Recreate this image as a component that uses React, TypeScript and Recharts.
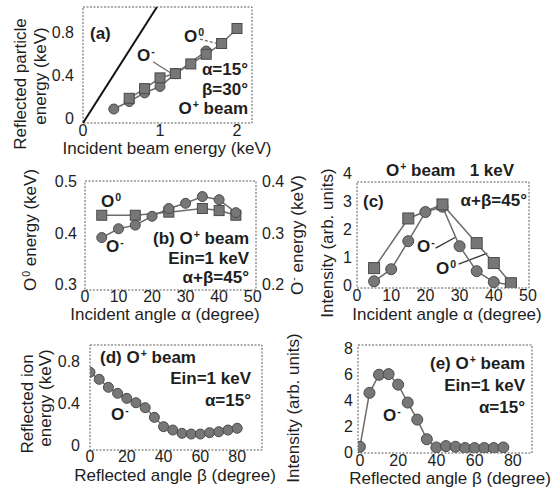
import React from "react";
import { LineChart, Line, XAxis, YAxis, ReferenceArea, ReferenceLine } from "recharts";

const FONT = '"Liberation Sans", Arial, Helvetica, sans-serif';
const INK = "#1e1e1e";
const MARK_FILL = "#777777";
const MARK_EDGE = "#4a4a4a";
const LINK = "#6c6c6c";

// (a) reflected energy vs incident beam energy
const A_EIN_O0 = [0.6, 0.8, 1.0, 1.2, 1.4, 1.6, 1.8, 2.0];
const A_E_O0 = [0.19, 0.28, 0.38, 0.42, 0.51, 0.6, 0.7, 0.84];
const A_EIN_OM = [0.4, 0.6, 0.8, 1.0, 1.2, 1.6];
const A_E_OM = [0.09, 0.16, 0.24, 0.3, 0.42, 0.63];
const A_X_TICKS = [0, 1, 2];
const A_Y_TICKS = [0, 0.4, 0.8];

// (b) energy vs incident angle (O0 left axis, O- right axis)
const B_ALPHA_O0 = [5, 15, 25, 35, 40, 45];
const B_E_O0 = [0.434, 0.434, 0.44, 0.447, 0.443, 0.434];
const B_ALPHA_OM = [5, 10, 15, 20, 25, 30, 35, 40, 45];
const B_E_OM = [0.291, 0.308, 0.315, 0.332, 0.347, 0.357, 0.37, 0.364, 0.339];
const B_X_TICKS = [0, 10, 20, 30, 40, 50];
const B_YL_TICKS = [0.3, 0.4, 0.5];
const B_YR_TICKS = [0.2, 0.3, 0.4];

// (c) intensity vs incident angle
const C_ALPHA_O0 = [5, 15, 25, 35, 40, 45];
const C_I_O0 = [0.61, 2.38, 2.88, 1.5, 0.79, 0.07];
const C_ALPHA_OM = [5, 10, 15, 20, 25, 30, 35, 40, 45];
const C_I_OM = [0.14, 0.57, 1.57, 2.61, 2.8, 1.39, 0.5, 0.11, 0.0];
const C_X_TICKS = [0, 10, 20, 30, 40, 50];
const C_Y_TICKS = [0, 1, 2, 3, 4];

// (d) reflected ion energy vs reflected angle
const D_BETA = [0, 5, 10, 15, 20, 25, 30, 35, 40, 45, 50, 55, 60, 65, 70, 75, 80];
const D_E_OM = [0.7, 0.633, 0.557, 0.5, 0.452, 0.41, 0.363, 0.271, 0.182, 0.15, 0.119, 0.112, 0.112, 0.125, 0.134, 0.15, 0.167];
const D_X_TICKS = [0, 20, 40, 60, 80];
const D_Y_TICKS = [0, 0.4, 0.8];

// (e) intensity vs reflected angle
const E_BETA = [0, 5, 10, 15, 20, 25, 30, 35, 40, 45, 50, 55, 60, 65, 70, 75];
const E_I_OM = [0.4, 4.55, 5.94, 5.99, 5.18, 3.8, 2.49, 0.98, 0.35, 0.45, 0.4, 0.3, 0.3, 0.3, 0.3, 0.35];
const E_X_TICKS = [0, 20, 40, 60, 80];
const E_Y_TICKS = [0, 2, 4, 6, 8];

type Pt = { x: number; y: number };
const toPts = (xs: number[], ys: number[]): Pt[] => xs.map((x, i) => ({ x, y: ys[i] }));

const squareDot = (size: number) => (p: any) => {
  if (p.cx == null || p.cy == null) return <g key={p.index} />;
  return (
    <rect
      key={p.index}
      x={p.cx - size / 2}
      y={p.cy - size / 2}
      width={size}
      height={size}
      fill={MARK_FILL}
      stroke={MARK_EDGE}
      strokeWidth={1}
    />
  );
};

const circleDot = (r: number) => (p: any) => {
  if (p.cx == null || p.cy == null) return <g key={p.index} />;
  return <circle key={p.index} cx={p.cx} cy={p.cy} r={r} fill={MARK_FILL} stroke={MARK_EDGE} strokeWidth={1} />;
};

interface Series {
  data: Pt[];
  shape: "square" | "circle";
  axis?: "l" | "r";
  size?: number;
}

interface Segment {
  from: Pt;
  to: Pt;
  color?: string;
  width?: number;
  dash?: string;
}

interface PanelProps {
  plot: { x: number; y: number; w: number; h: number };
  xDomain: [number, number];
  xTicks: number[];
  xGap: number;
  yDomain: [number, number];
  yTicks: number[];
  yGap: number;
  right?: { domain: [number, number]; ticks: number[]; gap: number };
  series: Series[];
  segments?: Segment[];
}

const YW = 52;
const XH = 24;
const MT = 20;
const MR = 10;
const RW = 46;

function Panel({ plot, xDomain, xTicks, xGap, yDomain, yTicks, yGap, right, series, segments = [] }: PanelProps) {
  const width = YW + plot.w + (right ? RW : MR);
  const height = MT + plot.h + XH;
  const tick = { fontSize: 16, fill: INK, fontFamily: FONT };

  return (
    <div style={{ position: "absolute", left: plot.x - YW, top: plot.y - MT }}>
      <LineChart width={width} height={height} margin={{ top: MT, right: right ? 0 : MR, left: 0, bottom: 0 }}>
        <XAxis
          type="number"
          dataKey="x"
          domain={xDomain}
          ticks={xTicks}
          allowDataOverflow
          interval={0}
          height={XH}
          tick={tick}
          tickSize={0}
          tickMargin={xGap}
          axisLine={false}
          tickLine={false}
        />
        <YAxis
          yAxisId="l"
          type="number"
          domain={yDomain}
          ticks={yTicks}
          allowDataOverflow
          interval={0}
          width={YW}
          tick={tick}
          tickSize={0}
          tickMargin={yGap}
          axisLine={false}
          tickLine={false}
        />
        {right && (
          <YAxis
            yAxisId="r"
            orientation="right"
            type="number"
            domain={right.domain}
            ticks={right.ticks}
            allowDataOverflow
            interval={0}
            width={RW}
            tick={tick}
            tickSize={0}
            tickMargin={right.gap}
            axisLine={false}
            tickLine={false}
          />
        )}
        <ReferenceArea
          yAxisId="l"
          x1={xDomain[0]}
          x2={xDomain[1]}
          y1={yDomain[0]}
          y2={yDomain[1]}
          fill="none"
          stroke="#5c5c5c"
          strokeDasharray="2 1.5"
          ifOverflow="visible"
        />
        {segments.map((s, i) => (
          <ReferenceLine
            key={i}
            yAxisId="l"
            segment={[s.from, s.to]}
            stroke={s.color ?? LINK}
            strokeWidth={s.width ?? 1.3}
            strokeDasharray={s.dash}
            ifOverflow="visible"
          />
        ))}
        {series.map((s, i) => (
          <Line
            key={i}
            yAxisId={s.axis ?? "l"}
            data={s.data}
            dataKey="y"
            type="linear"
            stroke={LINK}
            strokeWidth={1.5}
            dot={s.shape === "square" ? squareDot(s.size ?? 10) : circleDot((s.size ?? 10) / 2)}
            activeDot={false}
            isAnimationActive={false}
          />
        ))}
      </LineChart>
    </div>
  );
}

const sup: React.CSSProperties = { fontSize: "0.62em", verticalAlign: "0.6em", marginLeft: 1 };
const Ion = ({ c }: { c: string }) => (
  <>
    O<span style={sup}>{c}</span>
  </>
);

function Txt({
  x,
  y,
  a = "start",
  bold = true,
  size = 17,
  children,
}: {
  x: number;
  y: number;
  a?: "start" | "middle" | "end";
  bold?: boolean;
  size?: number;
  children: React.ReactNode;
}) {
  const tx = a === "end" ? "-100%" : a === "middle" ? "-50%" : "0";
  return (
    <div
      style={{
        position: "absolute",
        left: x,
        top: y,
        transform: `translate(${tx}, -50%)`,
        fontFamily: FONT,
        fontSize: size,
        fontWeight: bold ? 700 : 400,
        lineHeight: 1,
        whiteSpace: "nowrap",
        color: INK,
      }}
    >
      {children}
    </div>
  );
}

function VTxt({ x, y, size = 17, children }: { x: number; y: number; size?: number; children: React.ReactNode }) {
  return (
    <div
      style={{
        position: "absolute",
        left: x,
        top: y,
        transform: "translate(-50%, -50%) rotate(-90deg)",
        fontFamily: FONT,
        fontSize: size,
        lineHeight: 1,
        whiteSpace: "nowrap",
        color: INK,
      }}
    >
      {children}
    </div>
  );
}

export default function App() {
  return (
    <div style={{ position: "absolute", left: 0, top: 0, width: 560, height: 488, background: "#fff", overflow: "hidden" }}>
      <Panel
        plot={{ x: 83, y: 7, w: 169, h: 116 }}
        xDomain={[0, 2.195]}
        xTicks={A_X_TICKS}
        xGap={2}
        yDomain={[-0.04, 1.04]}
        yTicks={A_Y_TICKS}
        yGap={9}
        segments={[
          { from: { x: 0, y: -0.04 }, to: { x: 0.96, y: 1.04 }, color: "#111", width: 2 },
          { from: { x: 1.52, y: 0.74 }, to: { x: 1.75, y: 0.7 }, dash: "3 2" },
          { from: { x: 0.91, y: 0.53 }, to: { x: 1.13, y: 0.43 } },
        ]}
        series={[
          { data: toPts(A_EIN_OM, A_E_OM), shape: "circle" },
          { data: toPts(A_EIN_O0, A_E_O0), shape: "square" },
        ]}
      />
      <Panel
        plot={{ x: 85, y: 181, w: 171, h: 109 }}
        xDomain={[0, 51]}
        xTicks={B_X_TICKS}
        xGap={1}
        yDomain={[0.29, 0.5]}
        yTicks={B_YL_TICKS}
        yGap={8}
        right={{ domain: [0.19, 0.4], ticks: B_YR_TICKS, gap: 6 }}
        series={[
          { data: toPts(B_ALPHA_O0, B_E_O0), shape: "square" },
          { data: toPts(B_ALPHA_OM, B_E_OM), shape: "circle", axis: "r" },
        ]}
      />
      <Panel
        plot={{ x: 357, y: 182, w: 172, h: 106 }}
        xDomain={[0, 50.3]}
        xTicks={C_X_TICKS}
        xGap={2}
        yDomain={[-0.1, 3.68]}
        yTicks={C_Y_TICKS}
        yGap={5}
        segments={[
          { from: { x: 23, y: 1.32 }, to: { x: 28.8, y: 1.71 }, color: "#333" },
          { from: { x: 29.7, y: 0.75 }, to: { x: 38.1, y: 1.14 }, color: "#333" },
        ]}
        series={[
          { data: toPts(C_ALPHA_OM, C_I_OM), shape: "circle", size: 11 },
          { data: toPts(C_ALPHA_O0, C_I_O0), shape: "square", size: 11 },
        ]}
      />
      <Panel
        plot={{ x: 90, y: 345, w: 172, h: 105 }}
        xDomain={[0, 93.5]}
        xTicks={D_X_TICKS}
        xGap={1}
        yDomain={[-0.04, 0.96]}
        yTicks={D_Y_TICKS}
        yGap={10}
        series={[{ data: toPts(D_BETA, D_E_OM), shape: "circle" }]}
      />
      <Panel
        plot={{ x: 358, y: 345, w: 174, h: 108 }}
        xDomain={[-1, 90]}
        xTicks={E_X_TICKS}
        xGap={2}
        yDomain={[-0.08, 8.23]}
        yTicks={E_Y_TICKS}
        yGap={5}
        series={[{ data: toPts(E_BETA, E_I_OM), shape: "circle", size: 11 }]}
      />

      {/* (a) */}
      <Txt x={90} y={33}>(a)</Txt>
      <Txt x={184} y={36}><Ion c="0" /></Txt>
      <Txt x={137} y={55}><Ion c="-" /></Txt>
      <Txt x={248} y={69} a="end">α=15°</Txt>
      <Txt x={248} y={89} a="end">β=30°</Txt>
      <Txt x={248} y={108} a="end"><Ion c="+" /> beam</Txt>
      <Txt x={167} y={148} a="middle" bold={false}>Incident beam energy (keV)</Txt>
      <VTxt x={20} y={84}>Reflected particle</VTxt>
      <VTxt x={40} y={76}>energy (keV)</VTxt>

      {/* (b) */}
      <Txt x={101} y={201}><Ion c="0" /></Txt>
      <Txt x={106} y={246}><Ion c="-" /></Txt>
      <Txt x={249} y={238} a="end">(b) <Ion c="+" /> beam</Txt>
      <Txt x={249} y={258} a="end">Ein=1 keV</Txt>
      <Txt x={249} y={277} a="end">α+β=45°</Txt>
      <Txt x={165} y={314} a="middle" bold={false}>Incident angle α (degree)</Txt>
      <VTxt x={30} y={230}><Ion c="0" /> energy (keV)</VTxt>
      <VTxt x={297} y={235}><Ion c="-" /> energy (keV)</VTxt>

      {/* (c) */}
      <Txt x={450} y={170} a="middle"><Ion c="+" /> beam&nbsp;&nbsp;&nbsp;1 keV</Txt>
      <Txt x={363} y={201}>(c)</Txt>
      <Txt x={527} y={200} a="end">α+β=45°</Txt>
      <Txt x={417} y={246}><Ion c="-" /></Txt>
      <Txt x={436} y={268}><Ion c="0" /></Txt>
      <Txt x={447} y={314} a="middle" bold={false}>Incident angle α (degree)</Txt>
      <VTxt x={327} y={243}>Intensity (arb. units)</VTxt>

      {/* (d) */}
      <Txt x={100} y={357}>(d) <Ion c="+" /> beam</Txt>
      <Txt x={251} y={378} a="end">Ein=1 keV</Txt>
      <Txt x={251} y={400} a="end">α=15°</Txt>
      <Txt x={111} y={414}><Ion c="-" /></Txt>
      <Txt x={175} y={475} a="middle" bold={false}>Reflected angle β (degree)</Txt>
      <VTxt x={27} y={404}>Reflected ion</VTxt>
      <VTxt x={45} y={398}>energy (keV)</VTxt>

      {/* (e) */}
      <Txt x={525} y={363} a="end">(e) <Ion c="+" /> beam</Txt>
      <Txt x={525} y={385} a="end">Ein=1 keV</Txt>
      <Txt x={525} y={407} a="end">α=15°</Txt>
      <Txt x={383} y={415}><Ion c="-" /></Txt>
      <Txt x={450} y={478} a="middle" bold={false}>Reflected angle β (degree)</Txt>
      <VTxt x={293} y={408}>Intensity (arb. units)</VTxt>
    </div>
  );
}
